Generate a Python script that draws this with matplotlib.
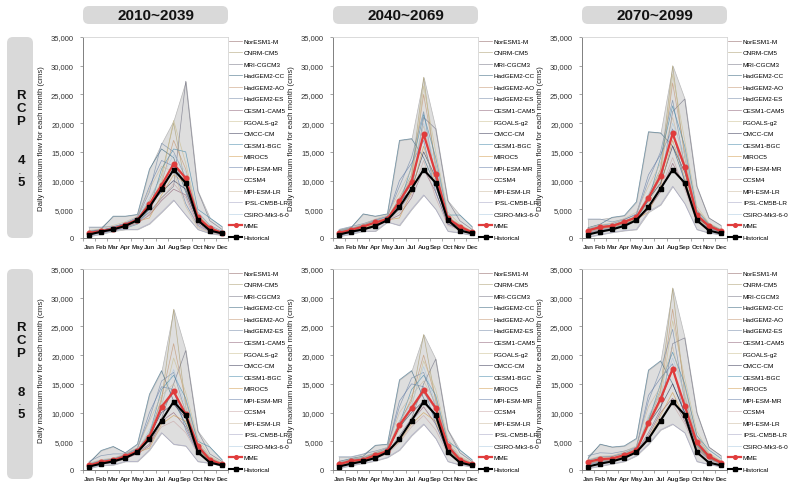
import numpy as np
import matplotlib.pyplot as plt
from matplotlib.patches import FancyBboxPatch
from matplotlib.ticker import FuncFormatter, MultipleLocator

plt.rcParams['font.family'] = ['Liberation Sans', 'DejaVu Sans']

# --- data (flows in thousand cms) ---
months = ["Jan", "Feb", "Mar", "Apr", "May", "Jun", "Jul", "Aug", "Sep", "Oct", "Nov", "Dec"]
periods = ["2010~2039", "2040~2069", "2070~2099"]
models = ["NorESM1-M", "CNRM-CM5", "MRI-CGCM3", "HadGEM2-CC", "HadGEM2-AO", "HadGEM2-ES",
          "CESM1-CAM5", "FGOALS-g2", "CMCC-CM", "CESM1-BGC", "MIROC5", "MPI-ESM-MR",
          "CCSM4", "MPI-ESM-LR", "IPSL-CM5B-LR", "CSIRO-Mk3-6-0"]
model_colors = ["#8c5f5f", "#a89a6a", "#6e6e80", "#2f5f7a", "#c2916a", "#6f86a6",
                "#8a5a70", "#c9bd8c", "#2f2f4f", "#3f86a8", "#d09a4a", "#5f7aa6",
                "#c7a3a3", "#c9b79a", "#a3a3c3", "#a6c6df"]

historical_k = [0.6, 1.1, 1.5, 2.1, 3.1, 5.4, 8.6, 11.9, 9.6, 3.1, 1.3, 0.8]

mme_45_2010_k = [0.9, 1.2, 1.6, 2.3, 3.2, 5.9, 9.2, 12.9, 10.4, 3.6, 1.7, 0.9]
mme_45_2040_k = [0.9, 1.4, 2.0, 2.7, 3.3, 6.4, 9.8, 18.1, 11.2, 3.4, 2.0, 1.0]
mme_45_2070_k = [1.3, 1.9, 2.1, 2.8, 3.6, 7.0, 10.8, 18.2, 12.4, 4.0, 2.1, 1.2]
mme_85_2010_k = [0.8, 1.4, 1.7, 2.4, 3.3, 5.8, 11.0, 13.7, 9.7, 4.2, 1.8, 1.0]
mme_85_2040_k = [1.0, 1.6, 1.8, 2.6, 3.3, 7.8, 10.8, 13.9, 10.8, 4.2, 1.8, 1.0]
mme_85_2070_k = [1.4, 1.9, 2.0, 2.6, 3.4, 8.1, 12.4, 17.6, 11.2, 4.8, 2.4, 1.3]

gcm_45_2010_k = [
    [0.8, 1.1, 1.5, 2.0, 3.0, 5.0, 8.5, 12.0, 10.0, 3.5, 1.6, 0.9],
    [1.0, 1.3, 1.8, 2.4, 3.3, 6.5, 11.0, 20.0, 9.0, 3.0, 1.5, 0.8],
    [0.6, 1.0, 1.4, 2.1, 2.8, 4.5, 7.0, 9.0, 27.3, 8.2, 3.0, 1.5],
    [1.2, 1.5, 3.8, 3.8, 4.1, 12.0, 15.5, 14.0, 8.0, 3.2, 1.8, 1.0],
    [0.9, 1.2, 1.6, 2.2, 3.1, 5.5, 9.5, 17.0, 12.0, 4.0, 2.0, 1.0],
    [1.9, 1.9, 2.0, 2.5, 3.5, 8.0, 16.5, 15.0, 10.5, 4.5, 2.2, 1.2],
    [0.7, 1.0, 1.3, 1.9, 2.6, 4.0, 6.5, 8.5, 7.5, 2.5, 1.2, 0.7],
    [0.8, 1.2, 1.6, 2.2, 3.0, 5.8, 10.0, 20.5, 13.0, 4.2, 1.9, 1.0],
    [1.0, 1.4, 1.7, 2.4, 3.2, 6.0, 8.0, 10.0, 8.5, 2.8, 1.4, 0.8],
    [0.5, 0.9, 1.2, 1.7, 2.4, 5.0, 12.0, 15.5, 15.0, 5.0, 3.5, 2.0],
    [0.9, 1.2, 1.5, 2.1, 2.9, 3.5, 7.5, 11.0, 9.5, 3.0, 1.5, 0.8],
    [1.1, 1.4, 1.9, 2.6, 3.6, 9.0, 13.5, 12.5, 6.0, 2.2, 1.1, 0.6],
    [0.6, 0.9, 1.3, 1.8, 2.5, 4.2, 6.8, 9.5, 7.0, 2.0, 1.0, 0.6],
    [1.3, 1.6, 2.2, 2.8, 3.8, 8.5, 12.5, 11.5, 5.5, 1.8, 0.9, 0.5],
    [0.3, 0.7, 1.4, 1.5, 1.5, 2.5, 4.5, 6.6, 4.0, 1.5, 0.8, 0.5],
    [1.0, 1.3, 1.7, 2.3, 3.4, 7.0, 10.5, 14.5, 11.5, 3.8, 1.8, 1.0],
]
gcm_45_2040_k = [
    [0.9, 1.3, 1.9, 2.6, 3.2, 6.0, 9.5, 18.0, 11.0, 3.3, 1.9, 1.0],
    [1.1, 1.6, 2.2, 3.0, 3.5, 7.0, 11.0, 28.0, 12.0, 3.5, 2.1, 1.0],
    [0.7, 1.1, 1.6, 2.3, 3.0, 5.0, 8.0, 21.0, 19.0, 6.5, 3.0, 1.5],
    [1.3, 1.8, 4.2, 3.8, 4.2, 17.0, 17.3, 14.0, 9.0, 3.0, 1.8, 0.9],
    [1.0, 1.5, 2.1, 2.8, 3.4, 6.5, 10.5, 25.0, 13.0, 3.8, 2.2, 1.1],
    [1.5, 2.0, 2.5, 3.2, 3.8, 9.0, 14.0, 22.0, 10.0, 3.2, 2.0, 1.0],
    [0.6, 1.0, 1.5, 2.0, 3.0, 4.0, 7.0, 12.0, 8.0, 2.5, 1.5, 0.8],
    [0.8, 1.3, 1.8, 2.6, 3.3, 5.5, 9.0, 26.5, 15.0, 4.5, 2.4, 1.2],
    [1.0, 1.4, 2.0, 2.7, 3.2, 6.2, 8.5, 15.0, 10.5, 3.0, 1.8, 0.9],
    [0.5, 0.9, 1.4, 2.0, 3.0, 5.8, 12.5, 21.5, 14.0, 4.0, 4.0, 2.0],
    [0.9, 1.3, 1.7, 2.4, 3.1, 3.5, 8.0, 16.0, 9.5, 2.8, 1.7, 0.9],
    [1.2, 1.7, 2.3, 3.1, 3.7, 10.0, 13.0, 17.0, 8.0, 2.4, 1.5, 0.8],
    [0.6, 1.0, 1.4, 1.9, 2.9, 4.5, 7.5, 13.5, 7.0, 2.2, 1.3, 0.7],
    [1.3, 1.8, 2.4, 3.3, 4.0, 8.0, 12.0, 19.5, 11.5, 3.6, 2.3, 1.1],
    [0.3, 0.7, 1.2, 1.2, 2.8, 2.2, 5.0, 7.5, 5.0, 1.2, 0.9, 0.5],
    [1.0, 1.4, 1.9, 2.7, 3.3, 6.8, 10.0, 20.0, 12.5, 3.7, 2.1, 1.0],
]
gcm_45_2070_k = [
    [1.3, 1.8, 2.0, 2.7, 3.5, 6.5, 10.5, 18.0, 12.0, 4.0, 2.0, 1.2],
    [1.5, 2.0, 2.3, 3.0, 3.8, 7.5, 12.0, 30.0, 14.0, 4.5, 2.3, 1.3],
    [1.0, 1.6, 1.8, 2.5, 3.2, 5.5, 9.0, 22.0, 24.2, 9.0, 3.5, 2.2],
    [1.8, 2.4, 3.6, 3.9, 6.3, 18.5, 18.3, 16.0, 10.0, 3.5, 2.0, 1.1],
    [1.4, 2.0, 2.2, 2.9, 3.7, 7.0, 11.5, 27.0, 15.0, 5.0, 2.5, 1.4],
    [3.3, 3.3, 2.8, 3.3, 4.0, 10.0, 15.0, 24.0, 12.5, 4.2, 2.2, 1.2],
    [0.9, 1.4, 1.6, 2.2, 3.0, 5.0, 8.0, 13.0, 9.0, 3.0, 1.7, 1.0],
    [1.2, 1.8, 2.0, 2.7, 3.5, 6.0, 10.0, 28.5, 17.0, 5.5, 2.6, 1.5],
    [1.4, 1.9, 2.1, 2.8, 3.6, 6.8, 9.5, 16.0, 11.5, 3.7, 2.0, 1.1],
    [0.8, 1.3, 1.7, 2.3, 3.3, 6.5, 14.0, 23.0, 16.0, 4.8, 2.4, 1.4],
    [1.2, 1.7, 1.9, 2.5, 3.3, 4.5, 9.0, 17.0, 10.5, 3.3, 1.9, 1.0],
    [1.6, 2.2, 2.5, 3.2, 4.2, 11.0, 14.5, 19.0, 9.5, 3.0, 1.8, 1.0],
    [0.9, 1.4, 1.7, 2.2, 3.1, 5.2, 8.5, 14.0, 8.5, 2.8, 1.6, 0.9],
    [1.7, 2.3, 2.6, 3.4, 4.5, 9.0, 13.0, 21.0, 13.0, 4.3, 2.3, 1.3],
    [0.2, 0.6, 1.0, 1.3, 1.5, 4.6, 5.8, 9.0, 6.0, 1.5, 0.9, 0.6],
    [1.3, 1.9, 2.1, 2.9, 3.6, 7.5, 11.0, 20.0, 14.5, 4.6, 2.2, 1.2],
]
gcm_85_2010_k = [
    [0.8, 1.3, 1.6, 2.3, 3.2, 5.5, 10.5, 13.5, 9.5, 4.0, 1.8, 1.0],
    [1.0, 1.6, 1.9, 2.6, 3.5, 6.5, 12.0, 28.0, 11.0, 4.5, 2.0, 1.1],
    [0.6, 1.1, 1.4, 2.0, 3.0, 4.5, 9.0, 15.0, 20.8, 6.8, 2.8, 1.5],
    [1.2, 3.4, 4.1, 3.0, 4.5, 13.2, 17.3, 12.0, 8.0, 3.5, 1.6, 0.9],
    [0.9, 1.5, 1.8, 2.5, 3.4, 6.0, 12.5, 22.0, 12.0, 4.8, 2.2, 1.2],
    [1.5, 2.5, 2.8, 2.8, 3.8, 9.0, 15.5, 17.0, 10.0, 4.2, 1.9, 1.0],
    [0.7, 1.1, 1.4, 2.0, 2.8, 4.2, 8.5, 10.0, 7.5, 3.2, 1.5, 0.8],
    [0.8, 1.4, 1.7, 2.4, 3.3, 5.5, 11.0, 19.5, 13.5, 5.5, 2.4, 1.3],
    [0.9, 1.5, 1.8, 2.5, 3.3, 6.0, 10.0, 11.5, 9.0, 3.8, 1.7, 0.9],
    [0.5, 1.0, 1.3, 2.0, 3.1, 6.2, 14.0, 16.5, 12.5, 5.0, 4.0, 1.8],
    [0.8, 1.3, 1.6, 2.2, 3.1, 3.8, 8.0, 9.5, 8.5, 3.5, 1.6, 0.9],
    [1.1, 1.7, 2.0, 2.7, 3.7, 10.0, 14.5, 14.0, 7.0, 3.0, 1.5, 0.8],
    [0.6, 1.0, 1.3, 1.9, 2.9, 4.5, 7.5, 8.5, 6.5, 2.8, 1.4, 0.8],
    [1.2, 1.8, 2.1, 2.8, 3.9, 8.5, 13.0, 15.0, 10.5, 4.5, 2.0, 1.1],
    [0.3, 0.8, 0.9, 1.5, 1.5, 3.5, 6.5, 4.5, 4.2, 1.5, 1.2, 0.7],
    [0.9, 1.5, 1.8, 2.5, 3.4, 7.0, 11.5, 17.5, 11.0, 4.6, 2.1, 1.1],
]
gcm_85_2040_k = [
    [1.0, 1.5, 1.8, 2.5, 3.3, 7.5, 10.5, 13.5, 10.5, 4.0, 1.8, 1.0],
    [1.2, 1.8, 2.1, 2.9, 3.6, 8.5, 12.0, 23.6, 12.0, 4.5, 2.0, 1.1],
    [0.8, 1.3, 1.6, 2.2, 3.0, 6.0, 9.0, 15.0, 19.3, 7.0, 3.0, 1.5],
    [1.5, 2.0, 2.4, 4.3, 4.5, 15.7, 17.3, 12.5, 9.0, 3.5, 1.6, 0.9],
    [1.1, 1.7, 2.0, 2.8, 3.5, 8.0, 12.5, 20.0, 12.5, 4.8, 2.2, 1.2],
    [2.3, 2.3, 2.8, 3.3, 3.9, 11.0, 16.0, 17.0, 11.0, 4.3, 1.9, 1.0],
    [0.7, 1.2, 1.5, 2.1, 2.9, 5.5, 8.5, 11.0, 8.0, 3.2, 1.5, 0.8],
    [1.0, 1.6, 1.9, 2.6, 3.4, 7.0, 11.0, 19.0, 14.0, 5.5, 2.4, 1.3],
    [1.0, 1.6, 1.8, 2.6, 3.2, 7.5, 10.0, 12.0, 9.5, 3.8, 1.7, 0.9],
    [0.6, 1.1, 1.4, 2.0, 3.1, 8.0, 14.0, 16.5, 13.0, 5.0, 3.5, 1.8],
    [0.9, 1.4, 1.7, 2.3, 3.1, 5.0, 8.0, 10.0, 8.5, 3.5, 1.6, 0.9],
    [1.3, 1.9, 2.2, 3.0, 3.8, 12.0, 15.0, 14.5, 8.0, 3.0, 1.5, 0.8],
    [0.7, 1.1, 1.4, 2.0, 2.8, 4.8, 7.5, 9.5, 7.0, 2.8, 1.4, 0.8],
    [1.3, 1.9, 2.3, 3.1, 4.0, 10.0, 13.0, 15.5, 11.5, 4.5, 2.0, 1.1],
    [0.3, 0.8, 1.2, 1.6, 2.2, 3.5, 6.0, 8.0, 5.5, 1.5, 0.9, 0.6],
    [1.1, 1.7, 2.0, 2.7, 3.4, 8.5, 11.5, 18.0, 11.5, 4.6, 2.1, 1.1],
]
gcm_85_2070_k = [
    [1.4, 1.9, 2.0, 2.6, 3.4, 8.0, 12.0, 17.5, 11.0, 4.8, 2.3, 1.3],
    [1.6, 2.2, 2.3, 2.9, 3.7, 9.0, 14.0, 31.7, 13.0, 5.5, 2.6, 1.4],
    [1.1, 1.6, 1.8, 2.3, 3.1, 6.5, 10.5, 22.0, 23.0, 10.0, 4.0, 2.5],
    [2.0, 4.5, 4.0, 4.2, 5.5, 17.4, 19.0, 15.0, 10.0, 4.2, 2.1, 1.2],
    [1.5, 2.0, 2.1, 2.8, 3.6, 8.5, 13.5, 28.0, 14.5, 6.0, 2.8, 1.5],
    [2.5, 3.0, 2.9, 3.3, 4.0, 12.0, 17.5, 24.5, 12.0, 5.0, 2.4, 1.3],
    [1.0, 1.5, 1.7, 2.2, 3.0, 6.0, 10.0, 12.5, 8.5, 3.8, 2.0, 1.1],
    [1.3, 1.8, 1.9, 2.6, 3.4, 7.5, 12.0, 26.0, 16.0, 6.8, 3.0, 1.6],
    [1.4, 1.9, 2.0, 2.6, 3.3, 8.0, 11.0, 15.0, 10.0, 4.5, 2.2, 1.2],
    [0.9, 1.4, 1.6, 2.2, 3.2, 8.5, 15.0, 20.5, 15.0, 6.0, 3.5, 2.0],
    [1.2, 1.7, 1.8, 2.4, 3.2, 5.5, 9.5, 13.5, 9.0, 4.0, 2.1, 1.1],
    [1.7, 2.3, 2.4, 3.0, 3.9, 13.0, 16.0, 18.5, 9.0, 3.6, 1.9, 1.0],
    [1.0, 1.5, 1.6, 2.1, 2.9, 5.2, 9.0, 11.5, 8.0, 3.4, 1.8, 1.0],
    [1.8, 2.4, 2.5, 3.2, 4.2, 11.0, 14.5, 21.5, 12.5, 5.2, 2.5, 1.4],
    [0.3, 0.7, 1.1, 1.5, 2.5, 4.5, 7.0, 8.0, 6.5, 1.5, 1.0, 0.6],
    [1.5, 2.0, 2.1, 2.8, 3.5, 9.5, 13.0, 19.5, 13.5, 5.5, 2.6, 1.4],
]

panels = [
    (0, 0, gcm_45_2010_k, mme_45_2010_k), (0, 1, gcm_45_2040_k, mme_45_2040_k),
    (0, 2, gcm_45_2070_k, mme_45_2070_k), (1, 0, gcm_85_2010_k, mme_85_2010_k),
    (1, 1, gcm_85_2040_k, mme_85_2040_k), (1, 2, gcm_85_2070_k, mme_85_2070_k),
]

W, H = 794, 489
fig = plt.figure(figsize=(W / 100, H / 100), dpi=100)

col_left = [83, 333, 582]
ax_w = 145
row_top = [38, 270]
ax_h = 201

x = np.arange(len(months))
hist = np.array(historical_k) * 1000

for r, c, gcm, mme in panels:
    left, top = col_left[c], row_top[r]
    ax = fig.add_axes([left / W, 1 - (top + ax_h) / H, ax_w / W, ax_h / H])
    g = np.array(gcm) * 1000
    ax.fill_between(x, g.min(axis=0), g.max(axis=0), facecolor="#dedede",
                    edgecolor="#b8b8b8", lw=0.5, zorder=1)
    for name, col, vals in zip(models, model_colors, g):
        ax.plot(x, vals, color=col, lw=0.5, alpha=0.7, label=name, zorder=2)
    ax.plot(x, np.array(mme) * 1000, color="#e03c3c", lw=1.6, marker="o", ms=3.3,
            label="MME", zorder=4)
    ax.plot(x, hist, color="black", lw=1.5, marker="s", ms=3,
            label="Historical", zorder=5)

    ax.set_xlim(-0.5, 11.5)
    ax.set_ylim(0, 35000)
    ax.set_xticks(x)
    ax.set_xticklabels(months, fontsize=4.6, fontweight="bold", color="#333333")
    ax.xaxis.set_minor_locator(MultipleLocator(1, offset=0.5))
    ax.tick_params(axis="x", which="major", length=0, pad=4)
    ax.tick_params(axis="x", which="minor", length=2.5, width=0.5, color="#808080")
    ax.yaxis.set_major_locator(MultipleLocator(5000))
    ax.yaxis.set_major_formatter(FuncFormatter(lambda v, p: f"{int(v):,}"))
    ax.tick_params(axis="y", labelsize=5.5, length=2.5, width=0.5, color="#808080",
                   labelcolor="#333333", pad=4)
    ax.set_ylabel("Daily maximum flow for each month (cms)", fontsize=5.6,
                  color="#222222", labelpad=4)
    for side in ["left", "bottom"]:
        ax.spines[side].set_color("#808080")
        ax.spines[side].set_linewidth(0.7)
    for side in ["top", "right"]:
        ax.spines[side].set_color("#d4d4d4")
        ax.spines[side].set_linewidth(0.6)

    ax.legend(loc="upper left", bbox_to_anchor=(1.0, 1.0), frameon=False,
              fontsize=4.6, labelspacing=0.95, handlelength=2.0, handletextpad=0.3,
              borderaxespad=0.0, borderpad=0.2, markerscale=0.8)

# gray rounded label boxes (positions in pixels -> inches)
def box(x0, y0, x1, y1):
    p = FancyBboxPatch((x0 / 100, (H - y1) / 100), (x1 - x0) / 100, (y1 - y0) / 100,
                       boxstyle="round,pad=0,rounding_size=0.06",
                       transform=fig.dpi_scale_trans, facecolor="#d9d9d9",
                       edgecolor="none", zorder=0)
    fig.add_artist(p)

for c, label in enumerate(periods):
    box(col_left[c], 7, col_left[c] + ax_w, 25)
    fig.text((col_left[c] + ax_w / 2) / W, 1 - 16.5 / H, label, ha="center", va="center",
             fontsize=11, fontweight="bold", color="#111111")

row_chars = [["R", "C", "P", "4", "5"], ["R", "C", "P", "8", "5"]]
char_offsets = [58, 71, 84, 123, 145]
box_bottoms = [239, 480]
for r in range(2):
    box(7, row_top[r], 33, box_bottoms[r])
    for ch, off in zip(row_chars[r], char_offsets):
        fig.text(21 / W, 1 - (row_top[r] + off) / H, ch, ha="center", va="center",
                 fontsize=9.5, fontweight="bold", color="#111111")
    fig.text(19.5 / W, 1 - (row_top[r] + 135.5) / H, ".", ha="center", va="baseline",
             fontsize=4.5, fontweight="bold", color="#111111")

fig.savefig("out.png", dpi=100)
